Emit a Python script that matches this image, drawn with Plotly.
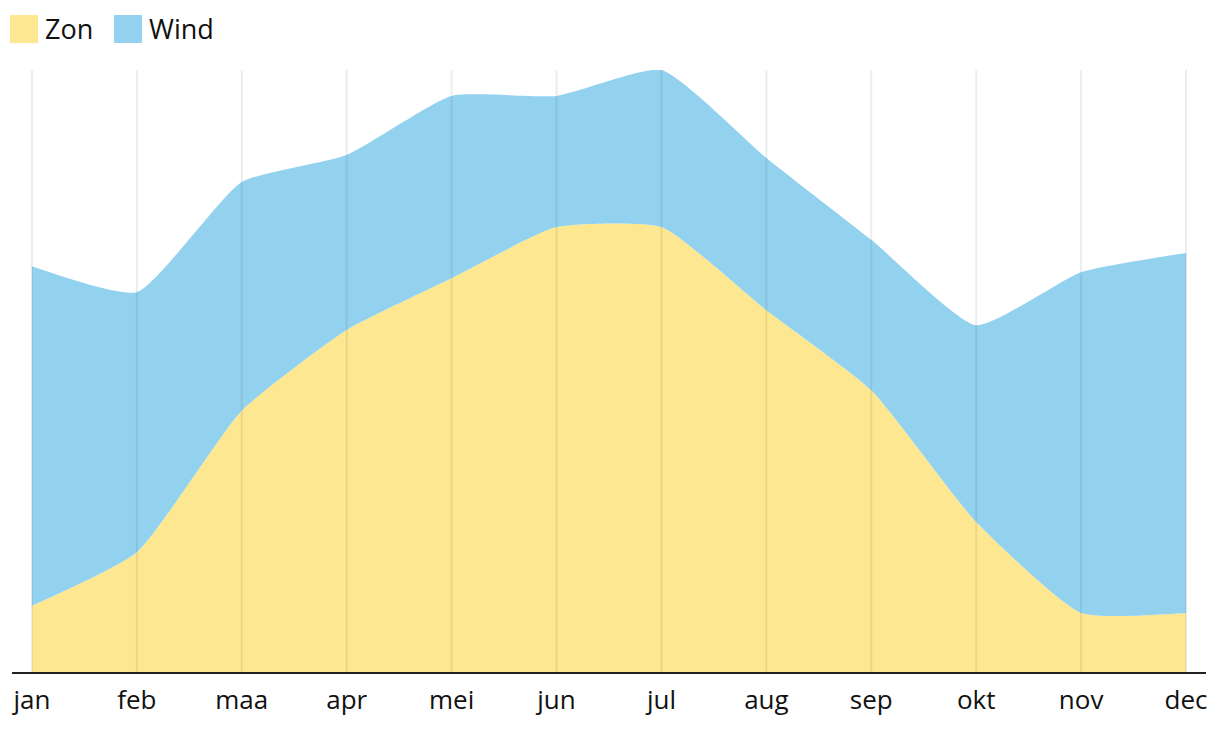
import plotly.graph_objects as go

months = ["jan", "feb", "maa", "apr", "mei", "jun", "jul", "aug", "sep", "okt", "nov", "dec"]
zon = [11.0, 19.9, 43.4, 56.8, 65.4, 73.9, 73.9, 60.1, 46.8, 24.9, 9.8, 9.8]
wind = [56.4, 43.2, 38.0, 29.1, 30.3, 21.8, 26.1, 25.3, 25.0, 32.7, 56.6, 59.8]
series_names = ["Zon", "Wind"]
series_colors = ["#FDE891", "#93D2EE"]

W, H = 1220, 734
ML, MR, MT, MB = 12, 14, 70, 62
PW = W - ML - MR
PH = H - MT - MB

fig = go.Figure()
for name, vals, col in zip(series_names, [zon, wind], series_colors):
    fig.add_trace(go.Scatter(
        x=list(range(len(months))), y=vals, name=name,
        stackgroup="one", mode="lines",
        line=dict(width=0, shape="spline", smoothing=0.5, color=col),
        fillcolor=col, hoverinfo="x+y", showlegend=False,
    ))

# vertical gridlines above the areas
for i in range(len(months)):
    fig.add_shape(type="line", xref="x", yref="paper", x0=i, x1=i, y0=0, y1=1,
                  line=dict(color="rgba(0,0,0,0.075)", width=2), layer="above")

# custom legend
def px2paper_x(px):
    return (px - ML) / PW

def py2paper_y(py):
    return (H - MB - py) / PH

legend_x = [10, 114]
for lx, name, col in zip(legend_x, series_names, series_colors):
    fig.add_shape(type="rect", xref="paper", yref="paper",
                  x0=px2paper_x(lx), x1=px2paper_x(lx + 28),
                  y0=py2paper_y(43), y1=py2paper_y(15),
                  fillcolor=col, line=dict(width=0), layer="above")
    fig.add_annotation(xref="paper", yref="paper", x=px2paper_x(lx + 33), y=py2paper_y(29),
                       text=name, showarrow=False, xanchor="left", yanchor="middle",
                       font=dict(size=27, color="#111", family="Open Sans"))

total_max = max(z + w for z, w in zip(zon, wind))
fig.update_layout(
    width=W, height=H,
    margin=dict(l=ML, r=MR, t=MT, b=MB),
    paper_bgcolor="white", plot_bgcolor="white",
    showlegend=False,
    font=dict(family="Open Sans", size=26, color="#111"),
    xaxis=dict(
        range=[-0.19, len(months) - 1 + 0.19],
        tickmode="array", tickvals=list(range(len(months))), ticktext=months,
        showgrid=False, zeroline=False, showline=True, linecolor="#222", linewidth=2,
        ticks="", tickfont=dict(size=26, color="#111"), layer="above traces",
        ticklabelstandoff=4,
    ),
    yaxis=dict(range=[0, total_max], visible=False, showgrid=False, zeroline=False),
)

fig.write_html("out.html")
